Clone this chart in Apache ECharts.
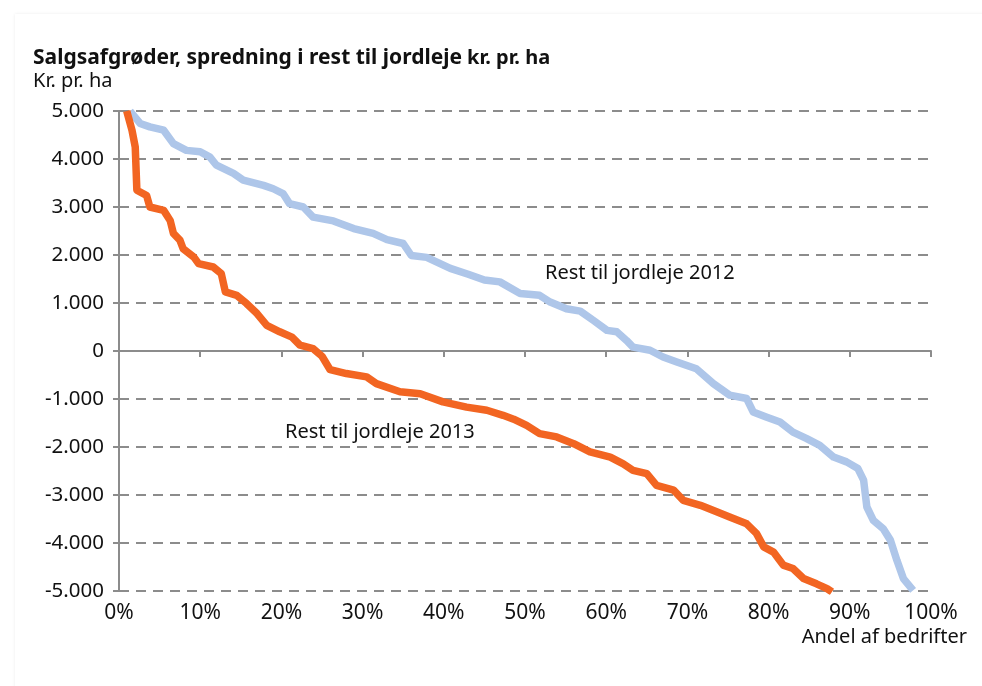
<!DOCTYPE html>
<html>
<head>
<meta charset="utf-8">
<script src="https://cdn.jsdelivr.net/npm/echarts@6/dist/echarts.min.js"></script>
<style>
html, body { margin: 0; padding: 0; background: #fff; overflow: hidden; }
#card { position: absolute; left: 15px; top: 14px; width: 1000px; height: 700px; background: #fff;
  box-shadow: 0 0 3px rgba(0,0,0,0.08); }
#chart { position: absolute; left: 0; top: 0; width: 982px; height: 686px; }
</style>
</head>
<body>
<div id="card"></div>
<div id="chart"></div>
<script>
// andel af bedrifter (%) og rest til jordleje (kr. pr. ha)
var x2012 = [1.35, 2.6, 3.8, 5.5, 6.7, 8.3, 10, 11.2, 12, 14.1, 15.3, 17.8, 19, 20.2, 21, 22.7, 23.9, 26.4, 28.9, 31.3,
  33, 35, 36, 37.9, 40.8, 43, 45, 46.9, 49.4, 51.8, 53.1, 55.1, 56.8, 58.4, 60.1, 61.3, 62.5, 63.3, 65.4, 67, 68.7,
  71.1, 73.2, 75.2, 77.3, 78.1, 79.7, 81.4, 83, 84.7, 86.3, 88, 89.6, 91, 91.7, 92.1, 92.9, 94.1, 95, 95.8, 96.6, 97.8];
var y2012 = [5000, 4740, 4670, 4600, 4320, 4180, 4150, 4040, 3870, 3700, 3560, 3450, 3380, 3280, 3070, 3000, 2790, 2710, 2550, 2450,
  2320, 2240, 1990, 1950, 1720, 1600, 1480, 1440, 1200, 1160, 1020, 880, 830, 640, 430, 400, 220, 80, 15, -125, -230,
  -370, -680, -920, -990, -1270, -1375, -1480, -1690, -1825, -1965, -2210, -2310, -2450, -2690, -3250, -3530, -3700, -3940, -4360, -4740, -4985];

var x2013 = [0.95, 1.6, 2, 2.2, 3.4, 3.8, 5.5, 6.3, 6.7, 7.5, 7.9, 9.2, 9.8, 11.6, 12.6, 13.1, 14.5, 15.7, 17, 18.2,
  19.8, 21.3, 22.3, 23.9, 25, 26, 28, 30.5, 31.7, 34.6, 37.1, 39.9, 42.8, 45.3, 47.3, 48.6, 50.2, 51.8, 53.9, 56,
  58, 60.5, 62.1, 63.3, 65, 66.2, 68.3, 69.5, 71.6, 73.6, 75.2, 77.3, 78.5, 79.4, 80.6, 81.8, 83, 84.3, 85.9, 87.2, 87.8];
var y2013 = [5000, 4600, 4250, 3350, 3240, 3000, 2930, 2720, 2450, 2310, 2130, 1960, 1820, 1750, 1610, 1230, 1160, 990, 780, 535,
  400, 290, 120, 50, -110, -390, -470, -540, -680, -850, -890, -1060, -1170, -1235, -1340, -1420, -1550, -1720, -1790, -1930,
  -2100, -2210, -2350, -2485, -2555, -2800, -2900, -3110, -3215, -3350, -3460, -3600, -3800, -4080, -4190, -4460, -4530, -4740, -4850, -4950, -5020];

var xTicks = [0, 10, 20, 30, 40, 50, 60, 70, 80, 90, 100];

function pairs(xs, ys) {
  var out = [];
  for (var i = 0; i < xs.length; i++) out.push([xs[i], ys[i]]);
  return out;
}

var font = "'Noto Sans', sans-serif";
var chart = echarts.init(document.getElementById('chart'));
var option = {
  animation: false,
  title: {
    left: 33, top: 48, padding: 0,
    text: '{a|Salgsafgrøder, spredning i rest til jordleje} {b|kr. pr. ha}',
    textStyle: {
      rich: {
        a: { fontFamily: font, fontWeight: 'bold', fontSize: 21, color: '#111' },
        b: { fontFamily: font, fontWeight: 'bold', fontSize: 20, color: '#111' }
      }
    }
  },
  graphic: [
    { type: 'text', left: 33, top: 71, style: { text: 'Kr. pr. ha', font: '20px ' + font, fill: '#111' } },
    { type: 'text', right: 15, top: 627, style: { text: 'Andel af bedrifter', font: '20px ' + font, fill: '#111' } },
    { type: 'text', left: 545, top: 263, style: { text: 'Rest til jordleje 2012', font: '20px ' + font, fill: '#111' } },
    { type: 'text', left: 285, top: 422, style: { text: 'Rest til jordleje 2013', font: '20px ' + font, fill: '#111' } }
  ],
  grid: { left: 119, top: 111, width: 812, height: 480 },
  xAxis: [{
    type: 'value', min: 0, max: 100, interval: 10, position: 'bottom',
    axisLine: { show: false, onZero: false }, axisTick: { show: false }, splitLine: { show: false },
    axisLabel: { fontFamily: font, fontSize: 21, color: '#111', margin: 12,
      formatter: function (v) { return xTicks.indexOf(v) >= 0 ? v + '%' : ''; } }
  }, {
    type: 'value', min: 0, max: 100, interval: 10, position: 'bottom',
    axisLine: { show: true, onZero: true, onZeroAxisIndex: 0, lineStyle: { color: '#8c8c8c', width: 2 } },
    axisTick: { show: true, inside: false, length: 6, lineStyle: { color: '#8c8c8c', width: 2 } },
    axisLabel: { show: false }, splitLine: { show: false }
  }],
  yAxis: {
    type: 'value', min: -5000, max: 5000, interval: 1000,
    axisLine: { show: true, lineStyle: { color: '#8c8c8c', width: 2 } },
    axisTick: { show: true, length: 6, lineStyle: { color: '#8c8c8c', width: 2 } },
    splitLine: { show: true, lineStyle: { color: '#8c8c8c', type: [10, 7], width: 2 } },
    axisLabel: { fontFamily: font, fontSize: 20.5, color: '#111', margin: 15,
      formatter: function (v) {
        if (v === 0) return '0';
        var s = String(Math.abs(v));
        s = s.slice(0, s.length - 3) + '.' + s.slice(-3);
        return (v < 0 ? '-' : '') + s;
      } }
  },
  series: [{
    name: 'Rest til jordleje 2012', type: 'line', xAxisIndex: 0, showSymbol: false,
    data: pairs(x2012, y2012), lineStyle: { color: '#aec6e9', width: 7.5, join: 'round' }, z: 3
  }, {
    name: 'Rest til jordleje 2013', type: 'line', xAxisIndex: 0, showSymbol: false,
    data: pairs(x2013, y2013), lineStyle: { color: '#f26522', width: 7.5, join: 'round' }, z: 4
  }]
};
chart.setOption(option);
</script>
</body>
</html>
